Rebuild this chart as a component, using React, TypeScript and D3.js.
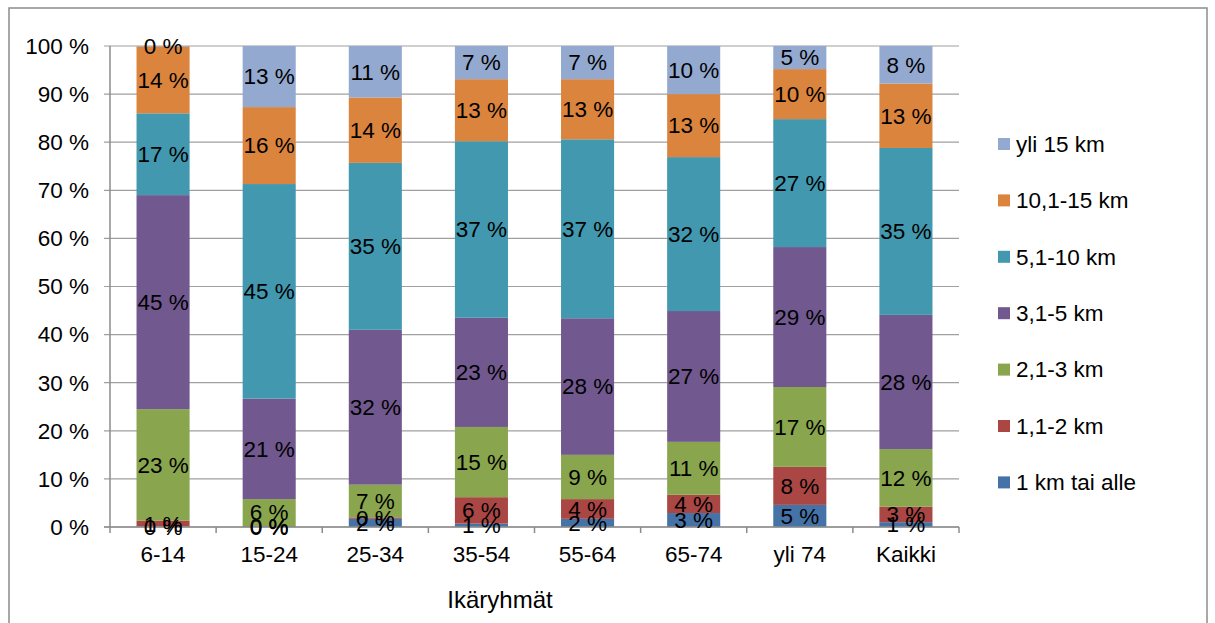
import React from "react";
import * as d3 from "d3";

const categories = ["6-14", "15-24", "25-34", "35-54", "55-64", "65-74", "yli 74", "Kaikki"];
const seriesNames = ["1 km tai alle", "1,1-2 km", "2,1-3 km", "3,1-5 km", "5,1-10 km", "10,1-15 km", "yli 15 km"];
const seriesColors = ["#4572A7", "#AA4643", "#89A54E", "#71588F", "#4198AF", "#DB843D", "#93A9CF"];

const km1 = [0.1, 0.1, 1.7, 0.7, 1.7, 2.9, 4.6, 1.0];
const km1to2 = [1.2, 0.1, 0.3, 5.5, 4.1, 3.8, 7.9, 3.2];
const km2to3 = [23.2, 5.6, 6.8, 14.6, 9.2, 11.0, 16.6, 12.0];
const km3to5 = [44.5, 20.9, 32.2, 22.7, 28.4, 27.2, 29.1, 27.9];
const km5to10 = [17.0, 44.6, 34.7, 36.7, 37.2, 32.0, 26.6, 34.7];
const km10to15 = [13.9, 16.0, 13.6, 12.9, 12.5, 13.1, 10.4, 13.4];
const over15 = [0.1, 12.7, 10.7, 6.9, 6.9, 10.0, 4.8, 7.8];

const seriesValues = [km1, km1to2, km2to3, km3to5, km5to10, km10to15, over15];
const yTicks = [0, 10, 20, 30, 40, 50, 60, 70, 80, 90, 100];
const axisTitle = "Ikäryhmät";

const W = 1215;
const H = 623;
const FONT = "'Liberation Sans', Arial, sans-serif";

export default function App() {
  const left = 110;
  const right = 959;
  const top = 46;
  const bottom = 527;

  const x = d3.scaleBand().domain(categories).range([left, right]).paddingInner(0.5).paddingOuter(0.25);
  const xOuter = d3.scaleBand().domain(categories).range([left, right]);
  const y = d3.scaleLinear().domain([0, 100]).range([bottom, top]);

  const rows = categories.map((c, i) => {
    const r: any = { cat: c };
    seriesNames.forEach((s, j) => (r[s] = seriesValues[j][i]));
    return r;
  });
  const stacked = d3.stack().keys(seriesNames)(rows);

  const legendY = (i: number) => 144 + i * 56.4;

  return (
    <svg width={W} height={H} style={{ position: "absolute", left: 0, top: 0 }} fontFamily={FONT}>
      <rect x={0} y={0} width={W} height={H} fill="#fff" />
      <rect x={9} y={8} width={1198} height={640} fill="none" stroke="#8c8c8c" strokeWidth={1.5} />

      {yTicks.map((t) => (
        <g key={t}>
          <line x1={left - 6} x2={right} y1={y(t)} y2={y(t)} stroke="#a0a0a0" strokeWidth={1.2} />
          <text x={89} y={y(t)} dy="0.35em" textAnchor="end" fontSize={22.5} fill="#000">
            {`${t} %`}
          </text>
        </g>
      ))}

      {stacked.map((layer, j) => (
        <g key={seriesNames[j]}>
          {layer.map((d, i) => (
            <rect
              key={i}
              x={x(categories[i])}
              width={x.bandwidth()}
              y={y(d[1])}
              height={Math.max(0, y(d[0]) - y(d[1]))}
              fill={seriesColors[j]}
            />
          ))}
        </g>
      ))}

      <line x1={left} x2={left} y1={top} y2={bottom} stroke="#8c8c8c" strokeWidth={1.5} />
      <line x1={left - 6} x2={right} y1={bottom} y2={bottom} stroke="#8c8c8c" strokeWidth={1.5} />
      {categories.map((c) => (
        <line
          key={c}
          x1={xOuter(c) as number}
          x2={xOuter(c) as number}
          y1={bottom}
          y2={bottom + 6}
          stroke="#8c8c8c"
          strokeWidth={1.5}
        />
      ))}
      <line x1={right} x2={right} y1={bottom} y2={bottom + 6} stroke="#8c8c8c" strokeWidth={1.5} />

      {stacked.map((layer, j) => (
        <g key={"lab" + j}>
          {layer.map((d, i) => (
            <text
              key={i}
              x={(x(categories[i]) as number) + x.bandwidth() / 2}
              y={(y(d[0]) + y(d[1])) / 2}
              dy="0.35em"
              textAnchor="middle"
              fontSize={22.5}
              fill="#000"
            >
              {`${Math.round(d[1] - d[0] + 1e-9)} %`}
            </text>
          ))}
        </g>
      ))}

      {categories.map((c) => (
        <text
          key={c}
          x={(xOuter(c) as number) + xOuter.bandwidth() / 2}
          y={562}
          textAnchor="middle"
          fontSize={22.5}
          fill="#000"
        >
          {c}
        </text>
      ))}
      <text x={500} y={608} textAnchor="middle" fontSize={24} fill="#000">
        {axisTitle}
      </text>

      {seriesNames
        .map((s, j) => ({ s, j }))
        .reverse()
        .map(({ s, j }, i) => (
          <g key={s}>
            <rect x={998} y={legendY(i) - 6} width={12} height={12} fill={seriesColors[j]} />
            <text x={1016} y={legendY(i)} dy="0.35em" fontSize={22.5} fill="#000">
              {s}
            </text>
          </g>
        ))}
    </svg>
  );
}
